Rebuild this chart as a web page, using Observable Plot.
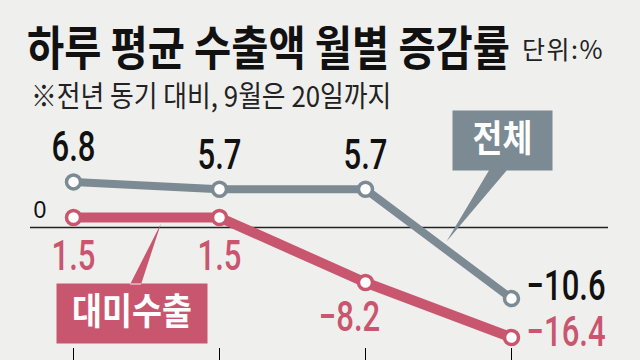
<!DOCTYPE html>
<html><head><meta charset="utf-8">
<script src="https://cdn.jsdelivr.net/npm/d3@7"></script>
<script src="https://cdn.jsdelivr.net/npm/@observablehq/plot@0.6"></script>
<style>
html,body{margin:0;padding:0;background:#efefed;}
#wrap{position:relative;width:640px;height:360px;overflow:hidden;background:#efefed;font-family:"Noto Sans CJK KR",sans-serif;}
#chart{position:absolute;left:0;top:0;}
#title{position:absolute;left:27px;top:20px;height:50px;font-size:47px;font-weight:700;color:#111;line-height:50px;white-space:nowrap;transform:scaleX(0.86);transform-origin:0 0;}
#unit{position:absolute;left:522px;top:36px;font-size:25px;letter-spacing:1.5px;color:#222;line-height:1;white-space:nowrap;}
#sub{position:absolute;left:31px;top:80px;font-size:29px;color:#222;line-height:1;white-space:nowrap;transform:scaleX(0.89);transform-origin:0 0;}
</style></head>
<body><div id="wrap"><div id="chart"></div>
<div id="title">하루 평균 수출액 월별 증감률</div>
<div id="unit">단위:%</div>
<div id="sub">※전년 동기 대비, 9월은 20일까지</div>
</div>
<script>
const months = ["6월", "7월", "8월", "9월"];
const totalValues = [6.8, 5.7, 5.7, -10.6];
const usValues = [1.5, 1.5, -8.2, -16.4];
const seriesNames = ["전체", "대미수출"];

const total = months.map((m, i) => ({month: m, value: totalValues[i], series: seriesNames[0]}));
const us = months.map((m, i) => ({month: m, value: usValues[i], series: seriesNames[1]}));
const fmt = d3.format(".1f");

const GRAY = "#7b8a93", PINK = "#c9566f";
const NUM = 'Roboto,"Liberation Sans",sans-serif';
const KR = '"Noto Sans CJK KR",sans-serif';

function calloutSymbol(w, h, wedge) {
  return {draw(ctx) {
    ctx.moveTo(-w / 2, -h / 2); ctx.lineTo(w / 2, -h / 2); ctx.lineTo(w / 2, h / 2); ctx.lineTo(-w / 2, h / 2); ctx.closePath();
    ctx.moveTo(wedge[0][0], wedge[0][1]); ctx.lineTo(wedge[1][0], wedge[1][1]); ctx.lineTo(wedge[2][0], wedge[2][1]); ctx.closePath();
  }};
}
const grayBox = calloutSymbol(100, 60, [[-13, 29], [5, 29], [-56, 101]]);
const pinkBox = calloutSymbol(151, 60, [[-2, -29], [9, -29], [29, -90]]);

const last = a => a.slice(-1);
const init = a => a.slice(0, -1);
const numStyle = {fontSize: 42, fontWeight: 500, fontFamily: NUM};

const plot = Plot.plot({
  width: 640, height: 360,
  marginLeft: 30, marginRight: 32, marginBottom: 12, marginTop: 0,
  style: {background: "transparent", overflow: "visible"},
  x: {type: "point", domain: months, range: [73, 511], padding: 0, tickSize: 12, tickFormat: () => "", label: null},
  y: {domain: [-16.4, 6.8], range: [337, 181.4], axis: null},
  marks: [
    Plot.ruleY([0], {stroke: "#222", strokeWidth: 1.5}),
    Plot.text([0], {y: d => d, text: d => String(d), frameAnchor: "left", textAnchor: "start", dx: 3, dy: -17, fontSize: 23, fontFamily: '"Liberation Sans",sans-serif', fill: "#111"}),
    Plot.dot([total[3]], {x: "month", y: "value", dx: -9, dy: -158, symbol: grayBox, r: 10, fill: GRAY}),
    Plot.dot([us[0]], {x: "month", y: "value", dx: 58.5, dy: 96, symbol: pinkBox, r: 10, fill: PINK}),
    Plot.line(total, {x: "month", y: "value", stroke: GRAY, strokeWidth: 8}),
    Plot.line(us, {x: "month", y: "value", stroke: PINK, strokeWidth: 10}),
    Plot.dot(total, {x: "month", y: "value", r: 7, fill: "white", stroke: GRAY, strokeWidth: 3.5}),
    Plot.dot(us, {x: "month", y: "value", r: 7, fill: "white", stroke: PINK, strokeWidth: 3.5}),
    Plot.text(init(total), {x: "month", y: "value", text: d => fmt(d.value), dy: -34, fill: "#111", ...numStyle}),
    Plot.text(last(total), {x: "month", y: "value", text: d => fmt(d.value), textAnchor: "start", dx: 15, dy: -12.5, fill: "#111", ...numStyle}),
    Plot.text(us.slice(0, 2), {x: "month", y: "value", text: d => fmt(d.value), dy: 39, fill: PINK, ...numStyle}),
    Plot.text([us[2]], {x: "month", y: "value", text: d => fmt(d.value), dx: -16, dy: 35, fill: PINK, ...numStyle}),
    Plot.text(last(us), {x: "month", y: "value", text: d => fmt(d.value), textAnchor: "start", dx: 15, dy: -4.5, fill: PINK, ...numStyle}),
    Plot.text([total[3]], {x: "month", y: "value", text: "series", dx: -9, dy: -158, fontSize: 37, fontWeight: 700, fontFamily: KR, fill: "white"}),
    Plot.text([us[0]], {x: "month", y: "value", text: "series", dx: 58.5, dy: 96, fontSize: 37, fontWeight: 700, fontFamily: KR, fill: "white"})
  ]
});

// condense text horizontally (the reference uses a narrow typeface)
function condense(selector, k) {
  plot.querySelectorAll(selector).forEach(t => {
    let tr = t.getAttribute("transform");
    if (!tr) {
      const x = +(t.getAttribute("x") || 0), y = +(t.getAttribute("y") || 0);
      t.removeAttribute("x"); t.removeAttribute("y");
      tr = `translate(${x},${y})`;
    }
    t.setAttribute("transform", tr + ` scale(${k},1)`);
  });
}
condense('g[font-family^="Roboto"] text', 0.74);
condense('g[font-family^="\\"Noto"] text', 0.88);
document.getElementById("chart").appendChild(plot);
</script>
</body></html>
